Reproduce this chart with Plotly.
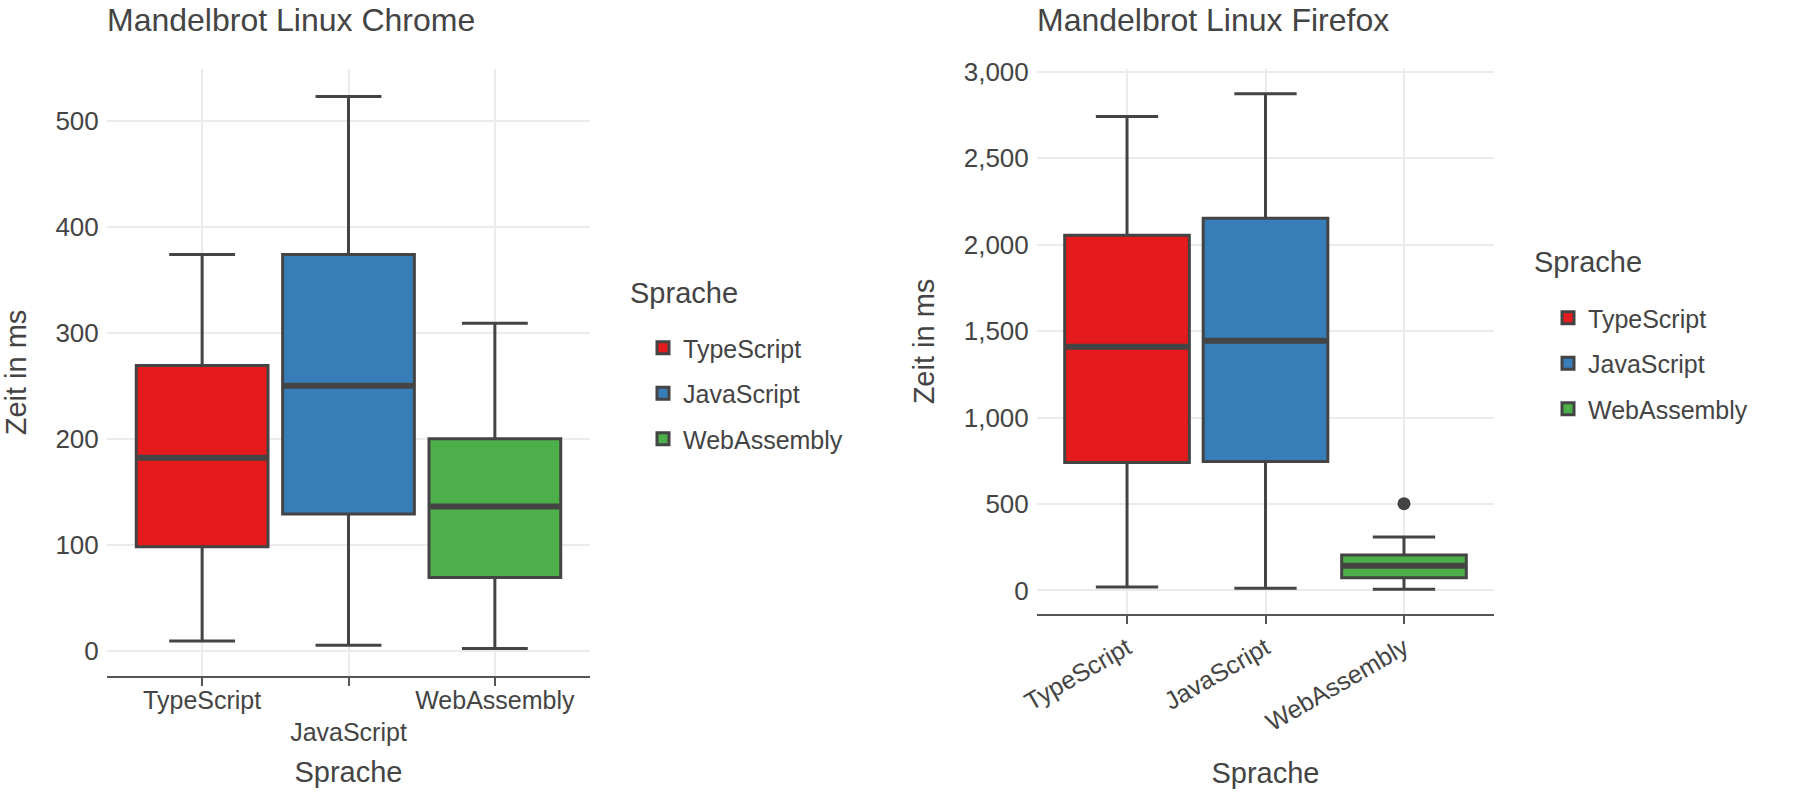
import plotly.graph_objects as go

languages = ["TypeScript", "JavaScript", "WebAssembly"]
colors = ["#E41A1C", "#377EB8", "#4DAF4A"]

# Chrome
chrome_lower = [9, 5, 2]
chrome_q1 = [98, 129, 69]
chrome_median = [182, 250, 136]
chrome_q3 = [269, 374, 200]
chrome_upper = [374, 523, 309]
chrome_outliers = [[], [], []]

# Firefox
firefox_lower = [20, 13, 7]
firefox_q1 = [740, 746, 73]
firefox_median = [1410, 1444, 143]
firefox_q3 = [2054, 2153, 205]
firefox_upper = [2741, 2873, 310]
firefox_outliers = [[], [], [502]]

LINE = "#444444"
TXT = "#444444"
GRID = "#EBEBEB"
FONT = "Liberation Sans, Arial, sans-serif"
BW = 0.9

fig = go.Figure()

def add_panel(xa, ya, legend, lower, q1, med, q3, upper, outl):
    for i, lang in enumerate(languages):
        fig.add_trace(go.Box(
            x=[i], q1=[q1[i]], median=[med[i]], q3=[q3[i]],
            lowerfence=[lower[i]], upperfence=[upper[i]],
            width=BW, whiskerwidth=0.5,
            fillcolor=colors[i], line=dict(color=LINE, width=3),
            name=lang, legend=legend, legendgroup=lang,
            xaxis=xa, yaxis=ya, boxpoints=False, hoverinfo="skip",
        ))
    for i, lang in enumerate(languages):
        fig.add_trace(go.Scatter(
            x=[i - BW / 2 + 0.01, i + BW / 2 - 0.01], y=[med[i], med[i]],
            mode="lines", line=dict(color=LINE, width=6),
            showlegend=False, xaxis=xa, yaxis=ya, hoverinfo="skip",
        ))
        if outl[i]:
            fig.add_trace(go.Scatter(
                x=[i] * len(outl[i]), y=outl[i], mode="markers",
                marker=dict(color=LINE, size=13),
                showlegend=False, xaxis=xa, yaxis=ya, hoverinfo="skip",
            ))

add_panel("x", "y", "legend", chrome_lower, chrome_q1, chrome_median, chrome_q3, chrome_upper, chrome_outliers)
add_panel("x2", "y2", "legend2", firefox_lower, firefox_q1, firefox_median, firefox_q3, firefox_upper, firefox_outliers)

W, H = 1800, 800
def px(v):
    return v / W
def py(v):
    return 1 - v / H

common_x = dict(
    range=[-0.65, 2.65], tickmode="array", tickvals=[0, 1, 2],
    showgrid=True, gridcolor=GRID, gridwidth=1.5,
    showline=True, linecolor="#555555", linewidth=1.5,
    ticks="outside", ticklen=8, tickwidth=1.5, tickcolor="#555555",
    tickfont=dict(family=FONT, size=25, color=TXT),
    zeroline=False, fixedrange=True, automargin=False,
)
common_y = dict(
    showgrid=True, gridcolor=GRID, gridwidth=1.5,
    showline=False, zeroline=False,
    ticks="outside", ticklen=2, tickcolor="rgba(0,0,0,0)",
    tickfont=dict(family=FONT, size=26, color=TXT),
    fixedrange=True, automargin=False,
)

leg_common = dict(
    xanchor="left", yanchor="top",
    font=dict(family=FONT, size=25, color=TXT),
    traceorder="grouped", tracegroupgap=10, bgcolor="rgba(0,0,0,0)",
)

def text_ann(text, x, y, size):
    return dict(text=text, x=px(x), y=py(y), xref="paper", yref="paper",
                xanchor="left", yanchor="middle", showarrow=False,
                font=dict(family=FONT, size=size, color=TXT))

fig.update_layout(
    template="none",
    width=W, height=H,
    margin=dict(l=0, r=0, t=0, b=0, autoexpand=False),
    paper_bgcolor="white", plot_bgcolor="white",
    font=dict(family=FONT, color=TXT),
    boxmode="overlay",
    xaxis=dict(common_x, domain=[px(107), px(590)], anchor="y",
               ticktext=["TypeScript", "<br>JavaScript", "WebAssembly"],
               ticklabelstandoff=-7,
               title=dict(text="Sprache", font=dict(size=29, color=TXT), standoff=16)),
    yaxis=dict(common_y, domain=[py(676), py(69)], anchor="x",
               range=[-24, 549], tickvals=[0, 100, 200, 300, 400, 500],
               title=dict(text="Zeit in ms", font=dict(size=29, color=TXT), standoff=20)),
    xaxis2=dict(common_x, domain=[px(1037), px(1494)], anchor="y2",
                ticktext=languages, tickangle=-30,
                title=dict(text="Sprache", font=dict(size=29, color=TXT), standoff=28)),
    yaxis2=dict(common_y, domain=[py(614), py(69)], anchor="x2",
                range=[-136, 3016], tickvals=[0, 500, 1000, 1500, 2000, 2500, 3000],
                tickformat=",",
                title=dict(text="Zeit in ms", font=dict(size=29, color=TXT), standoff=20)),
    legend=dict(leg_common, x=px(643), y=py(325)),
    legend2=dict(leg_common, x=px(1548), y=py(295)),
    annotations=[
        text_ann("Mandelbrot Linux Chrome", 105, 20, 32),
        text_ann("Mandelbrot Linux Firefox", 1035, 20, 32),
        text_ann("Sprache", 628, 293, 29),
        text_ann("Sprache", 1532, 262, 29),
    ],
)

fig.write_html("out.html")
